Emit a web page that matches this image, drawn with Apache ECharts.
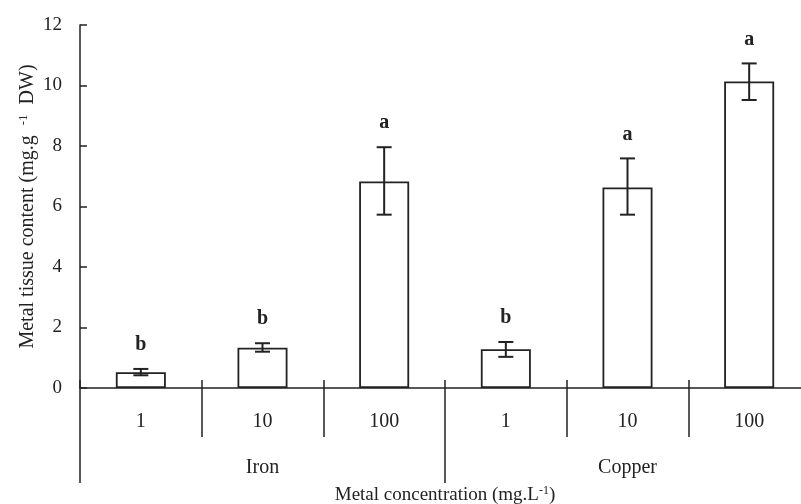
<!DOCTYPE html>
<html><head><meta charset="utf-8">
<script src="https://cdn.jsdelivr.net/npm/echarts@6/dist/echarts.min.js"></script>
<style>html,body{margin:0;padding:0;background:#fff}#c{width:801px;height:504px}</style>
</head><body><div id="c"></div>
<script>
const categories = ['1', '10', '100', '1', '10', '100'];
const groups = ['Iron', 'Copper'];
const means = [0.52, 1.33, 6.83, 1.28, 6.63, 10.13];
const errLow = [0.42, 1.20, 5.73, 1.03, 5.73, 9.52];
const errHigh = [0.63, 1.48, 7.96, 1.52, 7.59, 10.73];
const letters = ['b', 'b', 'a', 'b', 'a', 'a'];
const yTicks = { min: 0, max: 12, interval: 2 };

const FONT = 'Liberation Serif';
const INK = '#222';

const chart = echarts.init(document.getElementById('c'), null, { renderer: 'canvas' });
const errData = means.map((m, i) => [i, errLow[i], errHigh[i], m]);

chart.setOption({
  animation: false,
  backgroundColor: '#fff',
  grid: { left: 80, top: 25, bottom: 116, right: -9, containLabel: false, outerBoundsMode: 'none' },
  xAxis: [
    {
      type: 'category', data: categories, position: 'bottom',
      axisLine: { show: true, lineStyle: { color: INK, width: 1.5 } },
      axisTick: { show: true, inside: false, length: 49, lineStyle: { color: INK, width: 1.5 } },
      axisLabel: { margin: 24, fontFamily: FONT, fontSize: 20, color: INK },
      name: 'Metal concentration (mg.L{sup|-1})',
      nameLocation: 'middle', nameGap: 97, nameMoveOverlap: false,
      nameTextStyle: { fontFamily: FONT, fontSize: 19, color: INK,
        rich: { sup: { fontFamily: FONT, fontSize: 12, color: INK, verticalAlign: 'top', padding: [0, 0, 8, 0] } } }
    },
    {
      type: 'category', data: categories, position: 'bottom',
      axisLine: { show: false },
      axisTick: { show: true, inside: true, length: 8, lineStyle: { color: INK, width: 1.5 } },
      axisLabel: { show: false }
    },
    {
      type: 'category', data: groups, position: 'bottom',
      axisLine: { show: false },
      axisTick: { show: true, inside: false, length: 95, lineStyle: { color: INK, width: 1.5 } },
      axisLabel: { margin: 70, fontFamily: FONT, fontSize: 20, color: INK }
    }
  ],
  yAxis: {
    type: 'value', min: yTicks.min, max: yTicks.max, interval: yTicks.interval,
    axisLine: { show: true, lineStyle: { color: INK, width: 1.5 } },
    axisTick: { show: true, inside: true, length: 7, lineStyle: { color: INK, width: 1.5 } },
    splitLine: { show: false },
    axisLabel: { margin: 18, fontFamily: FONT, fontSize: 19, color: INK },
    name: 'Metal tissue content (mg.g  {sup|-1}  DW)',
    nameLocation: 'middle', nameGap: 42, nameRotate: 90, nameMoveOverlap: false,
    nameTextStyle: { fontFamily: FONT, fontSize: 20, color: INK,
      rich: { sup: { fontFamily: FONT, fontSize: 13, color: INK, padding: [0, 0, 8, 0] } } }
  },
  series: [
    {
      type: 'bar', xAxisIndex: 0, data: means, barWidth: 50,
      itemStyle: { color: '#fff', borderColor: INK, borderWidth: 1.8 },
      z: 2
    },
    {
      type: 'custom', xAxisIndex: 0, data: errData, z: 5,
      encode: { x: 0, y: [1, 2] },
      renderItem: function (params, api) {
        const i = api.value(0);
        const lo = api.coord([i, api.value(1)]);
        const hi = api.coord([i, api.value(2)]);
        const hw = 7.5;
        const style = { stroke: INK, lineWidth: 2 };
        return {
          type: 'group',
          children: [
            { type: 'line', shape: { x1: lo[0], y1: lo[1], x2: hi[0], y2: hi[1] }, style: style },
            { type: 'line', shape: { x1: hi[0] - hw, y1: hi[1], x2: hi[0] + hw, y2: hi[1] }, style: style },
            { type: 'line', shape: { x1: lo[0] - hw, y1: lo[1], x2: lo[0] + hw, y2: lo[1] }, style: style },
            { type: 'text', style: { text: letters[params.dataIndex], x: hi[0], y: hi[1] - 24,
                align: 'center', verticalAlign: 'middle', fill: INK,
                font: 'bold 20px "' + FONT + '"' } }
          ]
        };
      }
    }
  ]
});
</script>
</body></html>
